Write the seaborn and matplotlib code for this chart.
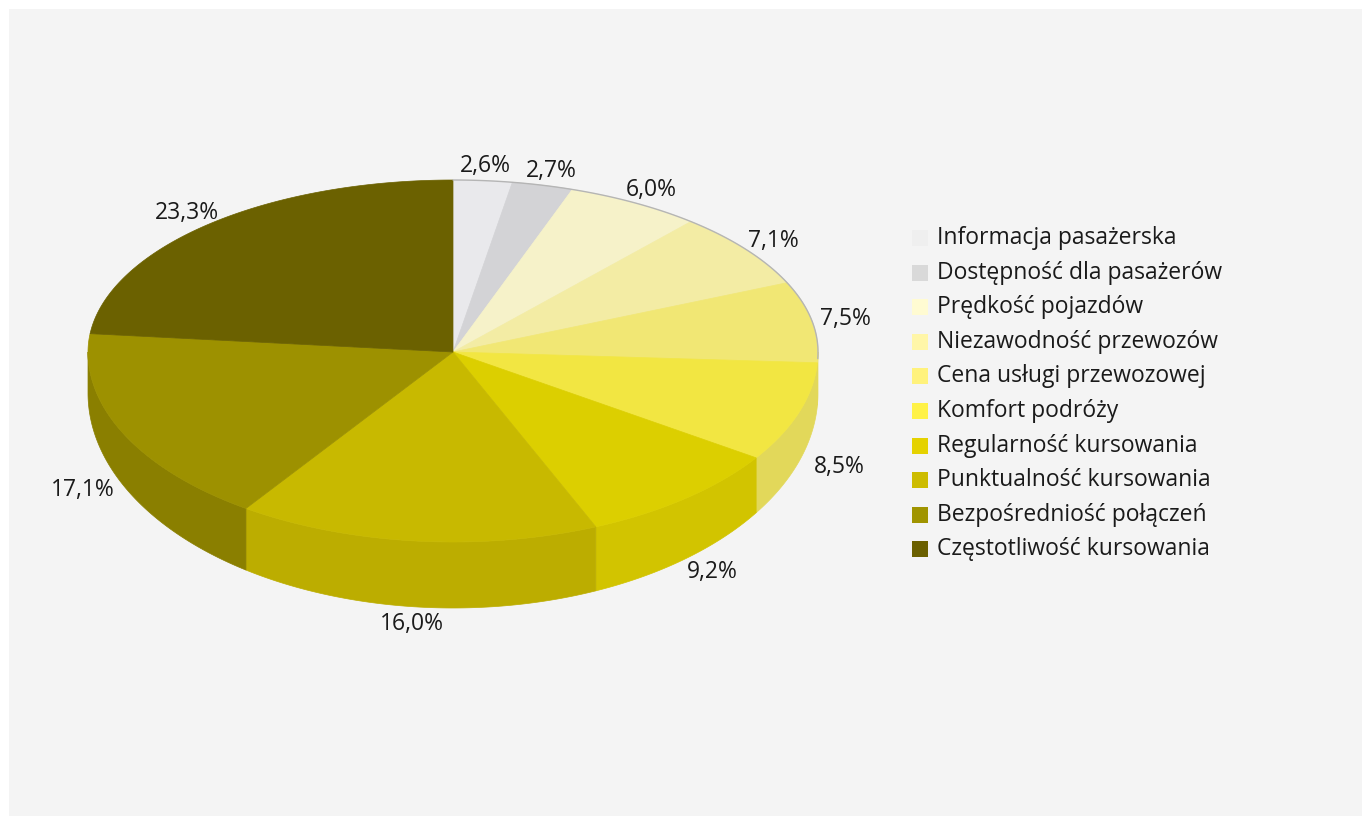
import numpy as np
import matplotlib
matplotlib.use("Agg")
import matplotlib.pyplot as plt
from matplotlib.patches import Polygon, Rectangle
import seaborn as sns

sns.set_theme(style="white")
plt.rcParams["font.family"] = ["Open Sans", "DejaVu Sans"]

# Share of respondents naming each factor (%)
categories = [
    "Informacja pasażerska",
    "Dostępność dla pasażerów",
    "Prędkość pojazdów",
    "Niezawodność przewozów",
    "Cena usługi przewozowej",
    "Komfort podróży",
    "Regularność kursowania",
    "Punktualność kursowania",
    "Bezpośredniość połączeń",
    "Częstotliwość kursowania",
]
values = [2.6, 2.7, 6.0, 7.1, 7.5, 8.5, 9.2, 16.0, 17.1, 23.3]
labels = [f"{v:.1f}%".replace(".", ",") for v in values]

legend_colors = ["#efefef", "#d9d9d9", "#fffbd2", "#fff6a8", "#fff27c",
                 "#fff247", "#e5d200", "#cdbc00", "#a09400", "#6b6000"]
top_colors = ["#e9e9ec", "#d3d3d6", "#f6f2c9", "#f3eca4", "#f1e774",
              "#f2e642", "#dccf00", "#c8b900", "#9d9100", "#6b6100"]
side_colors = ["#cfcfd2", "#bcbcbf", "#e0dcb0", "#e2da88", "#e3da60",
               "#e2d85a", "#d2c400", "#bcad00", "#8a7f00", "#5c5300"]

W, H = 1362, 816
fig = plt.figure(figsize=(W / 100, H / 100), dpi=100)
fig.patch.set_facecolor("white")
ax = fig.add_axes([0, 0, 1, 1])
ax.set_xlim(0, W)
ax.set_ylim(H, 0)
ax.axis("off")
ax.add_patch(Rectangle((9, 9), W, H, facecolor="#f4f4f4", edgecolor="none", zorder=0))

# Projected disc geometry in pixel space (y downwards); the near half of the
# disc is drawn slightly larger than the far half to give some perspective.
cx, cy, rx = 453, 352, 365
ry_back, ry_front = 172, 190
bot_shift, ry_bottom = 41, 215


def top_pt(theta_deg, k=1.0):
    t = np.radians(theta_deg)
    c = np.cos(t)
    ry = ry_back if c > 0 else ry_front
    return cx + k * rx * np.sin(t), cy - k * ry * c


def bottom_pt(theta_deg, k=1.0):
    t = np.radians(theta_deg)
    return cx + k * rx * np.sin(t), cy + bot_shift - k * ry_bottom * np.cos(t)


total = sum(values)
bounds = np.concatenate([[0], np.cumsum(values)]) / total * 360.0

# Side wall: only the front half (90..270 deg, clockwise from top) is visible
for i in range(len(values)):
    a0, a1 = max(bounds[i], 90), min(bounds[i + 1], 270)
    if a1 <= a0:
        continue
    th = np.linspace(a0, a1, 80)
    verts = [top_pt(t) for t in th] + [bottom_pt(t) for t in th[::-1]]
    ax.add_patch(Polygon(verts, closed=True, facecolor=side_colors[i],
                         edgecolor=side_colors[i], linewidth=0.5, zorder=2))

# Top face wedges
for i in range(len(values)):
    th = np.linspace(bounds[i], bounds[i + 1], 120)
    verts = [(cx, cy)] + [top_pt(t) for t in th]
    ax.add_patch(Polygon(verts, closed=True, facecolor=top_colors[i],
                         edgecolor=top_colors[i], linewidth=0.5, zorder=3))

# Thin rim along the back right edge
th = np.linspace(0, 92, 100)
rim = np.array([top_pt(t) for t in th])
ax.plot(rim[:, 0], rim[:, 1], color="#b5b5b5", lw=1.0, zorder=4)

# Percentage labels just outside the rim
for i, lab in enumerate(labels):
    mid = (bounds[i] + bounds[i + 1]) / 2
    t = np.radians(mid)
    if np.cos(t) < 0:
        x, y = bottom_pt(mid, k=1.02)
        x += 35 * np.sin(t)
    else:
        x, y = top_pt(mid, k=1.01)
        x += 30 * np.sin(t)
    y -= 13 * np.cos(t)
    ax.text(x, y, lab, ha="center", va="center", fontsize=16.5, color="#1a1a1a", zorder=5)

# Legend
lx, ly0, step = 912, 238, 34.6
for i, (name, col) in enumerate(zip(categories, legend_colors)):
    y = ly0 + i * step
    ax.add_patch(Rectangle((lx, y - 8), 16, 16, facecolor=col, edgecolor="none", zorder=5))
    ax.text(lx + 25, y, name, ha="left", va="center", fontsize=16.5, color="#1a1a1a", zorder=5)

fig.savefig("out.png", dpi=100, facecolor=fig.get_facecolor())
